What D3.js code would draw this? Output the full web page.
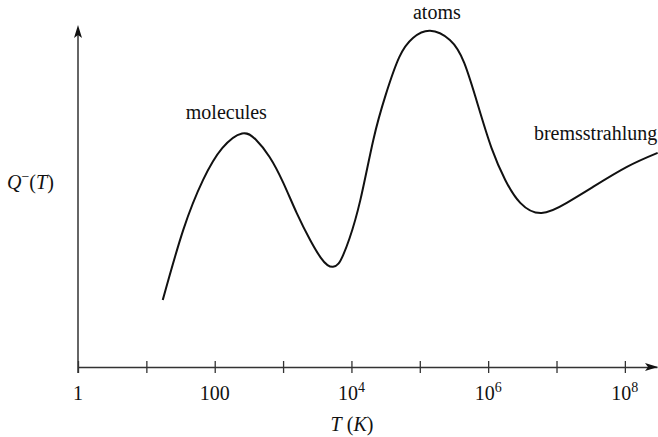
<!DOCTYPE html>
<html>
<head>
<meta charset="utf-8">
<script src="https://cdn.jsdelivr.net/npm/d3@7"></script>
<style>
	body { margin: 0; background: #fff; }
	svg { display: block; }
	text { font-family: "Liberation Serif", "Times New Roman", serif; font-size: 20px; fill: #111; }
</style>
</head>
<body>
<svg id="chart"></svg>
<script>
// log10 of temperature (K) along the curve
var logT = [1.24, 1.54, 1.83, 2.11, 2.40, 2.60, 2.80, 3.00, 3.20, 3.40, 3.55, 3.65, 3.73,
	3.81, 3.88, 3.97, 4.13, 4.32, 4.50, 4.70, 4.90, 5.15, 5.44, 5.65, 5.85, 6.05, 6.25,
	6.47, 6.78, 7.15, 7.53, 8.03, 8.48];
// cooling rate Q^-(T), arbitrary units
var coolQ = [1.96, 4.01, 5.47, 6.40, 6.83, 6.65, 6.15, 5.40, 4.50, 3.70, 3.20, 2.98, 2.93,
	3.02, 3.28, 3.75, 4.88, 6.64, 7.95, 9.06, 9.62, 9.83, 9.56, 8.89, 7.66, 6.40, 5.47,
	4.80, 4.50, 4.80, 5.26, 5.85, 6.26];
// axis ticks (every decade) and the labelled ones
var tickExp = [0, 1, 2, 3, 4, 5, 6, 7, 8];
var labelExp = [0, 2, 4, 6, 8];
var labelBase = ["1", "100", "10", "10", "10"];
var labelSup = ["", "", "4", "6", "8"];
// peak labels
var peakNames = ["molecules", "atoms", "bremsstrahlung"];
var peakAt = [[2.17, 7.25], [5.25, 10.18], [6.67, 6.65]];

var w = 658, h = 437;
var x0 = 78, y0 = 367;

var svg = d3.select("#chart")
	.attr("width", w)
	.attr("height", h);

var x = d3.scaleLog()
	.domain([1, Math.pow(10, 8.47)])
	.range([x0, 657]);
var y = d3.scaleLinear()
	.domain([0, 10])
	.range([y0, 25]);

// x axis
var xAxis = d3.axisBottom(x)
	.tickValues(tickExp.map(function(e) { return Math.pow(10, e); }))
	.tickSize(6)
	.tickSizeOuter(0)
	.tickFormat("");

var gx = svg.append("g")
	.attr("transform", "translate(0," + y0 + ")")
	.call(xAxis);
gx.select(".domain").attr("stroke", "#333").attr("stroke-width", 1.5);
gx.selectAll(".tick line")
	.attr("y1", -6)
	.attr("y2", 6)
	.attr("stroke", "#333")
	.attr("stroke-width", 1.3);

// y axis line
svg.append("line")
	.attr("x1", x0).attr("x2", x0)
	.attr("y1", y0 + 6).attr("y2", 32)
	.attr("stroke", "#333")
	.attr("stroke-width", 1.5);

// arrow heads
svg.append("path")
	.attr("d", "M" + x0 + ",25 L" + (x0 - 4) + ",38 L" + x0 + ",35 L" + (x0 + 4) + ",38 Z")
	.attr("fill", "#111");
svg.append("path")
	.attr("d", "M658," + y0 + " L645," + (y0 - 4) + " L648," + y0 + " L645," + (y0 + 4) + " Z")
	.attr("fill", "#111");

// tick labels
labelExp.forEach(function(e, i) {
	var t = svg.append("text")
		.attr("x", x(Math.pow(10, e)))
		.attr("y", 400)
		.attr("text-anchor", "middle");
	t.append("tspan").text(labelBase[i]);
	if (labelSup[i]) {
		t.append("tspan")
			.attr("dy", -8)
			.style("font-size", "14px")
			.text(labelSup[i]);
	}
});

// axis titles
var tx = svg.append("text")
	.attr("x", 352)
	.attr("y", 431)
	.attr("text-anchor", "middle");
tx.append("tspan").style("font-style", "italic").text("T");
tx.append("tspan").text(" (");
tx.append("tspan").style("font-style", "italic").text("K");
tx.append("tspan").text(")");

var ty = svg.append("text")
	.attr("x", 7)
	.attr("y", 189);
ty.append("tspan").style("font-style", "italic").text("Q");
ty.append("tspan").attr("dy", -8).style("font-size", "14px").text("\u2212");
ty.append("tspan").attr("dy", 8).text("(");
ty.append("tspan").style("font-style", "italic").text("T");
ty.append("tspan").text(")");

// the cooling curve
var pts = logT.map(function(e, i) { return [Math.pow(10, e), coolQ[i]]; });
var line = d3.line()
	.x(function(d) { return x(d[0]); })
	.y(function(d) { return y(d[1]); })
	.curve(d3.curveNatural);

svg.append("path")
	.datum(pts)
	.attr("d", line)
	.attr("fill", "none")
	.attr("stroke", "#111")
	.attr("stroke-width", 2);

// peak names
peakNames.forEach(function(name, i) {
	svg.append("text")
		.attr("x", x(Math.pow(10, peakAt[i][0])))
		.attr("y", y(peakAt[i][1]))
		.attr("text-anchor", i == 2 ? "start" : "middle")
		.text(name);
});
</script>
</body>
</html>
